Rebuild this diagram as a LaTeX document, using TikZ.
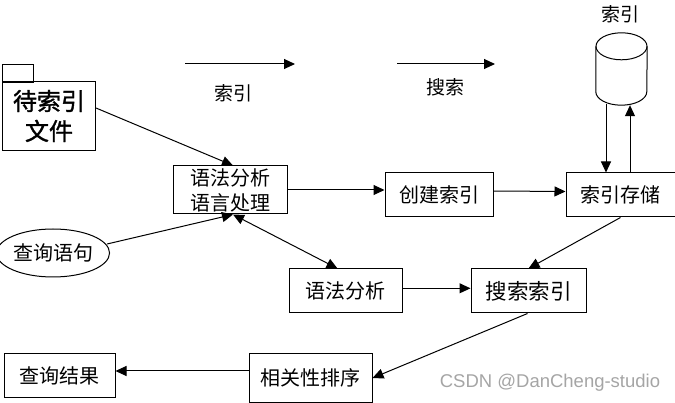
\documentclass[tikz,border=0pt]{standalone}
\usepackage{fontspec}
\setmainfont{Noto Sans CJK SC}
\newfontfamily\markfont{Liberation Sans}
\newfontfamily\headfont[FakeBold=1.5]{Noto Sans CJK SC}
\usetikzlibrary{
    shapes.geometric,      % Ellipse
    arrows.meta            % Triangle tips
}
\definecolor{MarkGray}{RGB}{165,165,165}
\tikzset{step box/.style={
    rectangle,
    draw,
    line width=1pt,
    text centered,
    inner sep=0pt,
    font=\fontsize{20}{25}\selectfont
}}
\tikzset{flow/.style={
    line width=1pt,
    -{Triangle[length=11pt,width=10pt]}
}}
\tikzset{caption/.style={
    inner sep=0pt,
    font=\fontsize{19}{23}\selectfont
}}
\begin{document}
\begin{tikzpicture}[x=1pt,y=1pt]
    \useasboundingbox (0,0) rectangle (675,-403);

    \node[step box, minimum width=31pt, minimum height=18pt] (tab) at (18,-73.5) {};
    \node[step box, minimum width=93pt, minimum height=69pt, align=center,
        font=\fontsize{24}{30}\headfont] (source) at (49,-116) {待索引\\文件};
    \node[step box, ellipse, minimum width=104pt, minimum height=48pt] (query) at (53,-253) {查询语句};
    \node[step box, minimum width=114pt, minimum height=48pt, align=center] (parse) at (230,-190) {语法分析\\语言处理};
    \node[step box, minimum width=108pt, minimum height=44pt] (build) at (439,-194.5) {创建索引};
    \node[step box, minimum width=109pt, minimum height=44pt] (save) at (620.5,-195) {索引存储};
    \node[step box, minimum width=113pt, minimum height=44pt] (syntax) at (345.5,-291) {语法分析};
    \node[step box, minimum width=115pt, minimum height=44pt, font=\fontsize{21.5}{25}\selectfont] (search) at (528.5,-291) {搜索索引};
    \node[step box, minimum width=123pt, minimum height=48pt] (rank) at (310.5,-378) {相关性排序};
    \node[step box, minimum width=111pt, minimum height=44pt] (result) at (59.5,-375.5) {查询结果};

    \node[minimum width=51pt, minimum height=72pt, inner sep=0pt] (store) at (621.5,-69) {};
    \draw[line width=1pt] ([yshift=-13.5pt]store.north) ellipse (25.5pt and 13.5pt);
    \draw[line width=1pt] ([yshift=-13.5pt]store.north west) -- ([yshift=13.5pt]store.south west)
        arc[start angle=180, end angle=360, x radius=25.5pt, y radius=13.5pt] -- ([yshift=-13.5pt]store.north east);

    \node[caption] (indexlabel) at (233,-93) {索引};
    \node[caption] (searchlabel) at (445,-87) {搜索};
    \node[caption] (storelabel) at (620,-14) {索引};
    \node[inner sep=0pt, text=MarkGray, font=\markfont\fontsize{18.5}{22}\selectfont] (mark) at (550,-383) {CSDN @DanCheng-studio};

    \coordinate (indexfrom) at (185,-64);
    \coordinate (indexto) at (295,-64);
    \coordinate (searchfrom) at (397,-64);
    \coordinate (searchto) at (495,-64);

    \draw[flow] (indexfrom) -- (indexto);
    \draw[flow] (searchfrom) -- (searchto);
    \draw[flow] ([yshift=8pt]source.east) -- ([xshift=3pt]parse.north);
    \draw[flow] ([xshift=-3pt,yshift=9pt]query.east) -- ([xshift=3pt]parse.south);
    \draw[flow, {Triangle[length=11pt,width=10pt]}-{Triangle[length=11pt,width=10pt]}]
        ([xshift=3pt]parse.south) -- ([xshift=-8pt]syntax.north);
    \draw[flow] (parse.east) -- ([yshift=4.5pt]build.west);
    \draw[flow] ([yshift=3.5pt]build.east) -- ([yshift=3.5pt]save.west);
    \draw[flow] ([xshift=-15.5pt,yshift=1pt]store.south) -- ([xshift=-14.5pt]save.north);
    \draw[flow] ([xshift=9.5pt]save.north) -- ([xshift=8.5pt]store.south);
    \draw[flow] (save.south) -- (search.north);
    \draw[flow] ([yshift=2.7pt]syntax.east) -- ([yshift=2.7pt]search.west);
    \draw[flow] ([xshift=-1pt]search.south) -- (rank.east);
    \draw[flow] ([yshift=7pt]rank.west) -- ([yshift=4.5pt]result.east);
\end{tikzpicture}
\end{document}
